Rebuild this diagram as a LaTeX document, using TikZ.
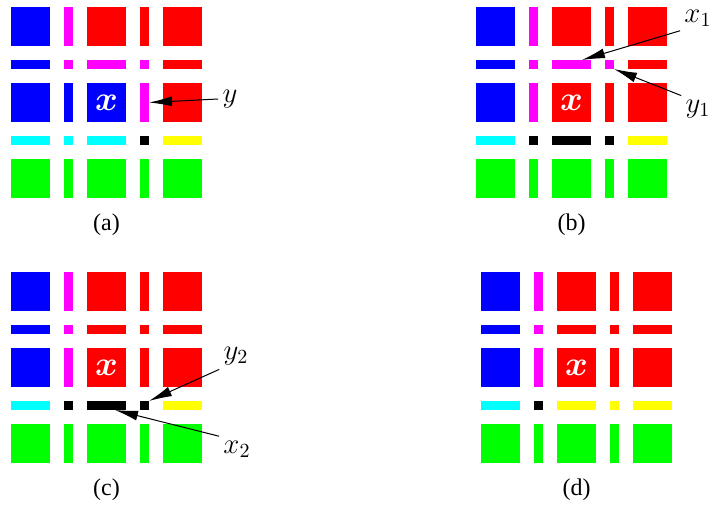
\documentclass[tikz,border=0pt]{standalone}
\usepackage{amsmath}
\usepackage{fontspec}
\setmainfont{Liberation Serif}
\usetikzlibrary{arrows.meta,calc}
\definecolor{pmagenta}{RGB}{255,0,255}
\definecolor{pcyan}{RGB}{0,255,255}
\definecolor{pyellow}{RGB}{255,255,0}
\definecolor{pgreen}{RGB}{0,255,0}

% one 5x5 grid of cells: #1 name, #2 and #3 top left corner, #4 colours row by row
\newcommand{\cellgrid}[4]{%
  \foreach \rowcols [count=\r from 0] in {#4} {
    \foreach \cellcol [count=\c from 0] in \rowcols {
      \pgfmathsetmacro\cx{#2+76*floor(\c/2)+53*mod(\c,2)}
      \pgfmathsetmacro\cy{#3+76*floor(\r/2)+53*mod(\r,2)}
      \pgfmathsetmacro\cw{ifthenelse(mod(\c,2)==1,4.5,19.5)}
      \pgfmathsetmacro\ch{ifthenelse(mod(\r,2)==1,4.5,19.5)}
      \node[cell,fill=\cellcol,minimum width=\cw pt,minimum height=\ch pt] (#1-\c-\r) at (\cx,\cy) {};
    }
  }%
}

\begin{document}
\begin{tikzpicture}[
  x=0.5pt,y=-0.5pt,
  cell/.style={anchor=north west,inner sep=0pt,outer sep=0pt,draw=none},
  center/.style={text=white,font=\LARGE},
  tag/.style={font=\Large,inner sep=2pt},
  caption/.style={font=\large,inner sep=0pt},
  pointer/.style={-{Latex[length=11.5pt,width=5pt]},line width=0.5pt}
]
\useasboundingbox (0,0) rectangle (713,506);

% (a)
\cellgrid{a}{11}{7}{{blue,pmagenta,red,red,red},{blue,pmagenta,pmagenta,pmagenta,red},{blue,blue,blue,pmagenta,red},{pcyan,pcyan,pcyan,black,pyellow},{pgreen,pgreen,pgreen,pgreen,pgreen}}
\node[center] at (a-2-2) {$\boldsymbol{x}$};
\node[tag] (ya) at (230,99) {$y$};
\draw[pointer] (ya.west) -- (a-3-2.east);
\node[caption] (capa) at ([yshift=-13.5pt]a-2-4.south) {(a)};

% (b)
\cellgrid{b}{476}{7}{{blue,pmagenta,red,red,red},{blue,pmagenta,pmagenta,pmagenta,red},{blue,pmagenta,red,red,red},{pcyan,black,black,black,pyellow},{pgreen,pgreen,pgreen,pgreen,pgreen}}
\node[center] at (b-2-2) {$\boldsymbol{x}$};
\node[tag] (xb) at (698,18) {$x_1$};
\node[tag] (yb) at (698,109) {$y_1$};
\draw[pointer] (xb.south west) -- ([xshift=-4.5pt]b-2-1.north east);
\draw[pointer] (yb.north west) -- (b-3-1.south east);
\node[caption] (capb) at ([yshift=-13.5pt]b-2-4.south) {(b)};

% (c)
\cellgrid{c}{11}{272}{{blue,pmagenta,red,red,red},{blue,pmagenta,red,red,red},{blue,pmagenta,red,red,red},{pcyan,black,black,black,pyellow},{pgreen,pgreen,pgreen,pgreen,pgreen}}
\node[center] at (c-2-2) {$\boldsymbol{x}$};
\node[tag] (yc) at (236,356) {$y_2$};
\node[tag] (xc) at (237,449) {$x_2$};
\draw[pointer] (yc.south west) -- (c-3-3.north east);
\draw[pointer] (xc.north west) -- ([xshift=-5.5pt]c-2-3.south east);
\node[caption] (capc) at ([yshift=-13.5pt]c-2-4.south) {(c)};

% (d)
\cellgrid{d}{481}{272}{{blue,pmagenta,red,red,red},{blue,pmagenta,red,red,red},{blue,pmagenta,red,red,red},{pcyan,black,pyellow,pyellow,pyellow},{pgreen,pgreen,pgreen,pgreen,pgreen}}
\node[center] at (d-2-2) {$\boldsymbol{x}$};
\node[caption] (capd) at ([yshift=-13.5pt]d-2-4.south) {(d)};
\end{tikzpicture}
\end{document}
